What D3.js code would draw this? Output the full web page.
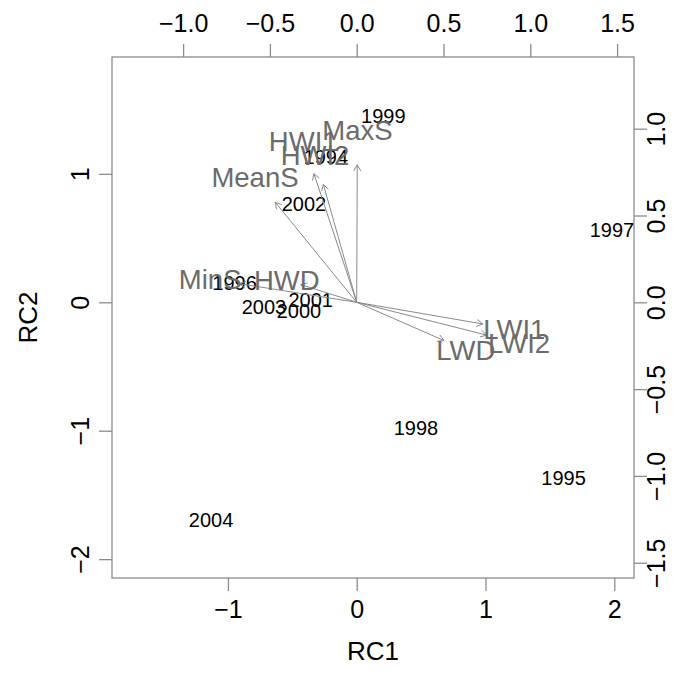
<!DOCTYPE html>
<html><head><meta charset="utf-8">
<script src="https://cdn.jsdelivr.net/npm/d3@7"></script>
<style>body{margin:0;background:#fff}svg{display:block;font-family:"Liberation Sans",Arial,sans-serif}</style>
</head><body><svg id="c" width="686" height="681"></svg>
<script>
const years = ["1994","1995","1996","1997","1998","1999","2000","2001","2002","2003","2004"];
const rc1 = [-0.24, 1.606, -0.948, 1.982, 0.46, 0.207, -0.448, -0.357, -0.41, -0.72, -1.131];
const rc2 = [1.13, -1.368, 0.148, 0.563, -0.979, 1.452, -0.065, 0.018, 0.766, -0.034, -1.695];
const vars = ["MaxS","HWI1","HWI2","MeanS","MinS","HWD","LWI1","LWI2","LWD"];
const load1 = [0.004, -0.308, -0.24, -0.586, -0.844, -0.403, 0.908, 0.935, 0.628];
const load2 = [0.99, 0.926, 0.849, 0.72, 0.134, 0.128, -0.156, -0.236, -0.275];
const bottomTicks = [-1, 0, 1, 2];
const leftTicks = [-2, -1, 0, 1];
const topTicks = [-1.0, -0.5, 0.0, 0.5, 1.0, 1.5];
const rightTicks = [-1.5, -1.0, -0.5, 0.0, 0.5, 1.0];

const L = 112, R = 634, T = 57, B = 578;
const x = d3.scaleLinear().domain([-1.900, 2.153]).range([L, R]);
const y = d3.scaleLinear().domain([-2.147, 1.910]).range([B, T]);
const xl = d3.scaleLinear().domain([-1.4096, 1.5974]).range([L, R]);
const yl = d3.scaleLinear().domain([-1.588, 1.413]).range([B, T]);

const svg = d3.select("#c");
const axCol = "#8c8c8c";
const fmt1 = d3.format(".1f");

svg.append("defs").append("clipPath").attr("id","pc")
  .append("rect").attr("x",L).attr("y",T).attr("width",R-L).attr("height",B-T);

svg.append("rect").attr("x",L).attr("y",T).attr("width",R-L).attr("height",B-T)
  .attr("fill","none").attr("stroke",axCol).attr("stroke-width",1.3);

function styleAxis(g){
  g.select(".domain").remove();
  g.selectAll(".tick line").attr("stroke",axCol).attr("stroke-width",1.3);
  g.selectAll(".tick text").attr("fill","#000").attr("font-size",25);
}
svg.append("g").attr("transform",`translate(0,${B})`)
  .call(d3.axisBottom(x).tickValues(bottomTicks).tickSize(13).tickPadding(9).tickFormat(d3.format("d")))
  .call(styleAxis);
svg.append("g").attr("transform",`translate(0,${T})`)
  .call(d3.axisTop(xl).tickValues(topTicks).tickSize(13).tickPadding(12).tickFormat(fmt1))
  .call(styleAxis);
const gl = svg.append("g").attr("transform",`translate(${L},0)`)
  .call(d3.axisLeft(y).tickValues(leftTicks).tickSize(13).tickFormat(d3.format("d")))
  .call(styleAxis);
gl.selectAll(".tick text").attr("transform","rotate(-90)").attr("x",0).attr("y",-32)
  .attr("dy","0.35em").attr("text-anchor","middle");
const gr = svg.append("g").attr("transform",`translate(${R},0)`)
  .call(d3.axisRight(yl).tickValues(rightTicks).tickSize(13).tickFormat(fmt1))
  .call(styleAxis);
gr.selectAll(".tick text").attr("transform","rotate(-90)").attr("x",0).attr("y",22)
  .attr("dy","0.35em").attr("text-anchor","middle");

svg.append("text").attr("x",(L+R)/2).attr("y",651).attr("dy","0.35em")
  .attr("text-anchor","middle").attr("font-size",26).text("RC1");
svg.append("text").attr("transform",`translate(28,${(T+B)/2}) rotate(-90)`).attr("dy","0.35em")
  .attr("text-anchor","middle").attr("font-size",26).text("RC2");

const plot = svg.append("g").attr("clip-path","url(#pc)");

plot.selectAll("text.score").data(years).join("text").attr("class","score")
  .attr("x",(d,i)=>x(rc1[i])).attr("y",(d,i)=>y(rc2[i])).attr("dy","0.35em")
  .attr("text-anchor","middle").attr("font-size",20).attr("fill","#000").text(d=>d);

const arrCol = "#8a8a8a";
const ag = svg.append("g");
vars.forEach((v,i)=>{
  const x0 = xl(0), y0 = yl(0);
  const x1 = xl(load1[i]*0.8), y1 = yl(load2[i]*0.8);
  ag.append("line").attr("x1",x0).attr("y1",y0).attr("x2",x1).attr("y2",y1)
    .attr("stroke",arrCol).attr("stroke-width",1);
  const ang = Math.atan2(y1-y0, x1-x0), len = 7, a = Math.PI/6;
  const p = [[x1 - len*Math.cos(ang - a), y1 - len*Math.sin(ang - a)],[x1,y1],
             [x1 - len*Math.cos(ang + a), y1 - len*Math.sin(ang + a)]];
  ag.append("path").attr("d", d3.line()(p)).attr("fill","none").attr("stroke",arrCol).attr("stroke-width",1);
});
svg.selectAll("text.load").data(vars).join("text").attr("class","load")
  .attr("x",(d,i)=>xl(load1[i])).attr("y",(d,i)=>yl(load2[i])).attr("dy","0.35em")
  .attr("text-anchor","middle").attr("font-size",27.5).attr("fill","#6b6b6b").text(d=>d);
</script></body></html>
